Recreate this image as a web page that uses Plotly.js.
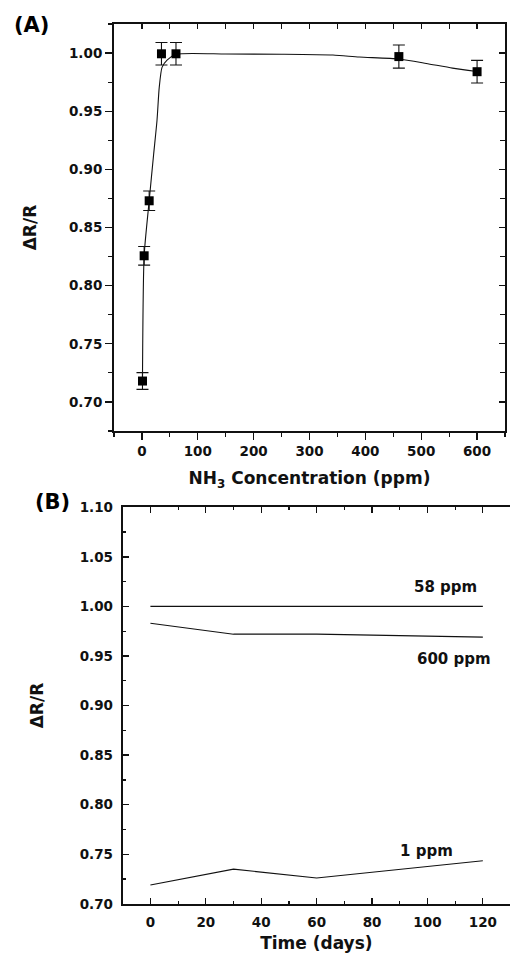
<!DOCTYPE html>
<html>
<head>
<meta charset="utf-8">
<script src="https://cdn.plot.ly/plotly-3.0.1.min.js"></script>
<style>html,body{margin:0;padding:0;background:#fff;}</style>
</head>
<body>
<div id="chart" style="width:510px;height:953px;"></div>
<script>
// Panel A: response vs NH3 concentration
const concPpm = [1, 4, 13, 35, 61, 460, 600];
const responseA = [0.718, 0.8257, 0.873, 0.9994, 0.9994, 0.997, 0.984];
const errorA = [0.0072, 0.008, 0.0084, 0.0097, 0.0097, 0.0099, 0.0097];
// fitted curve
const fitX = [1, 4, 13, 21, 27, 31, 36, 45, 62, 150, 250, 342, 389, 460, 509, 556, 600];
const fitY = [0.718, 0.8257, 0.873, 0.913, 0.942, 0.9705, 0.9877, 0.994, 0.999, 0.9992, 0.999, 0.9983, 0.9966, 0.9949, 0.9911, 0.9871, 0.9842];

// Panel B: stability over time
const timeDays = [0, 30, 60, 120];
const resp58 = [1.0, 1.0, 1.0, 1.0];
const resp600 = [0.983, 0.972, 0.972, 0.969];
const resp1 = [0.719, 0.735, 0.726, 0.7435];
const seriesLabels = ['58 ppm', '600 ppm', '1 ppm'];

const FONT = 'DejaVu Sans';
const tickFont = {family: FONT, size: 13.5, color: '#111', weight: 'bold'};
const titleFont = {family: FONT, size: 17, color: '#111', weight: 'bold'};

const traces = [
  {x: fitX, y: fitY, xaxis: 'x', yaxis: 'y', mode: 'lines', line: {color: '#111', width: 1.1, shape: 'spline', smoothing: 0.6}, hoverinfo: 'skip'},
  {x: concPpm, y: responseA, xaxis: 'x3', yaxis: 'y3', mode: 'markers',
   marker: {symbol: 'square', size: 9, color: '#000'},
   error_y: {type: 'data', array: errorA, visible: true, color: '#111', thickness: 1.1, width: 6}},
  {x: timeDays, y: resp58, xaxis: 'x4', yaxis: 'y2', mode: 'lines', line: {color: '#111', width: 1.1}, name: seriesLabels[0]},
  {x: timeDays, y: resp600, xaxis: 'x2', yaxis: 'y2', mode: 'lines', line: {color: '#111', width: 1.1}, name: seriesLabels[1]},
  {x: timeDays, y: resp1, xaxis: 'x2', yaxis: 'y2', mode: 'lines', line: {color: '#111', width: 1.1}, name: seriesLabels[2]}
];

const axLine = {showline: true, linecolor: '#111', linewidth: 2, zeroline: false, showgrid: false, tickcolor: '#111', tickwidth: 1.3, tickfont: tickFont};
const rangeAx = [-50, 650], rangeAy = [0.675, 1.025];
const rangeBx = [-10, 129.8], rangeBy = [0.70, 1.10];
const domAx = [0.2235, 0.9902], domAy = [0.5477, 0.9748];
const domBx = [0.2406, 1.0], domBy = [0.0516, 0.4677];

const layout = {
  width: 510, height: 953,
  margin: {l: 0, r: 0, t: 0, b: 0},
  paper_bgcolor: '#fff', plot_bgcolor: 'rgba(0,0,0,0)',
  showlegend: false,
  xaxis: Object.assign({}, axLine, {
    domain: domAx, anchor: 'y', range: rangeAx, tick0: 0, dtick: 100,
    ticks: 'outside', ticklen: 7,
    minor: {dtick: 50, ticks: 'outside', ticklen: 4, tickcolor: '#111', tickwidth: 1.2},
    title: {text: 'NH<sub>3</sub> Concentration (ppm)', font: titleFont, standoff: 14}
  }),
  yaxis: Object.assign({}, axLine, {
    domain: domAy, anchor: 'x', range: rangeAy, tick0: 0.7, dtick: 0.05, tickformat: '.2f',
    ticks: 'outside', ticklen: 7,
    minor: {dtick: 0.025, ticks: 'outside', ticklen: 4, tickcolor: '#111', tickwidth: 1.2},
    title: {text: 'ΔR/R', font: titleFont, standoff: 28}
  }),
  xaxis3: Object.assign({}, axLine, {
    overlaying: 'x', side: 'top', anchor: 'y3', range: rangeAx, tick0: 0, dtick: 100,
    ticks: 'inside', ticklen: 5, showticklabels: false,
    minor: {dtick: 50, ticks: 'inside', ticklen: 5, tickcolor: '#111', tickwidth: 1.2}
  }),
  yaxis3: Object.assign({}, axLine, {
    overlaying: 'y', side: 'right', anchor: 'x3', range: rangeAy, tick0: 0.7, dtick: 0.05,
    ticks: 'inside', ticklen: 6, showticklabels: false,
    minor: {dtick: 0.025, ticks: 'inside', ticklen: 5, tickcolor: '#111', tickwidth: 1.2}
  }),
  xaxis2: Object.assign({}, axLine, {
    domain: domBx, anchor: 'y2', range: rangeBx, tick0: 0, dtick: 20,
    ticks: 'inside', ticklen: 6, ticklabelstandoff: 5,
    minor: {dtick: 10, ticks: 'inside', ticklen: 3, tickcolor: '#111', tickwidth: 1.2},
    title: {text: 'Time (days)', font: titleFont, standoff: 14}
  }),
  xaxis4: Object.assign({}, axLine, {
    overlaying: 'x2', side: 'top', anchor: 'y2', range: rangeBx, tick0: 0, dtick: 20,
    ticks: 'inside', ticklen: 6, showticklabels: false,
    minor: {dtick: 10, ticks: 'inside', ticklen: 3, tickcolor: '#111', tickwidth: 1.2}
  }),
  yaxis2: Object.assign({}, axLine, {
    domain: domBy, anchor: 'x2', range: rangeBy, tick0: 0.7, dtick: 0.05, tickformat: '.2f',
    ticks: 'inside', ticklen: 6, ticklabelstandoff: 5,
    minor: {dtick: 0.025, ticks: 'inside', ticklen: 3, tickcolor: '#111', tickwidth: 1.2},
    title: {text: 'ΔR/R', font: titleFont, standoff: 32}
  }),
  annotations: [
    {text: '(A)', xref: 'paper', yref: 'paper', x: 31 / 510, y: 1 - 25 / 953, xanchor: 'center', yanchor: 'middle', showarrow: false, font: {family: FONT, size: 21, color: '#000', weight: 'bold'}},
    {text: '(B)', xref: 'paper', yref: 'paper', x: 52.5 / 510, y: 1 - 501.7 / 953, xanchor: 'center', yanchor: 'middle', showarrow: false, font: {family: FONT, size: 21, color: '#000', weight: 'bold'}},
    {text: seriesLabels[0], xref: 'x2', yref: 'y2', x: 106.4, y: 1.0195, xanchor: 'center', yanchor: 'middle', showarrow: false, font: {family: FONT, size: 15, color: '#111', weight: 'bold'}},
    {text: seriesLabels[1], xref: 'x2', yref: 'y2', x: 109.5, y: 0.9473, xanchor: 'center', yanchor: 'middle', showarrow: false, font: {family: FONT, size: 15, color: '#111', weight: 'bold'}},
    {text: seriesLabels[2], xref: 'x2', yref: 'y2', x: 99.8, y: 0.7533, xanchor: 'center', yanchor: 'middle', showarrow: false, font: {family: FONT, size: 15, color: '#111', weight: 'bold'}}
  ]
};

Plotly.newPlot('chart', traces, layout, {staticPlot: true, displayModeBar: false});
</script>
</body>
</html>
